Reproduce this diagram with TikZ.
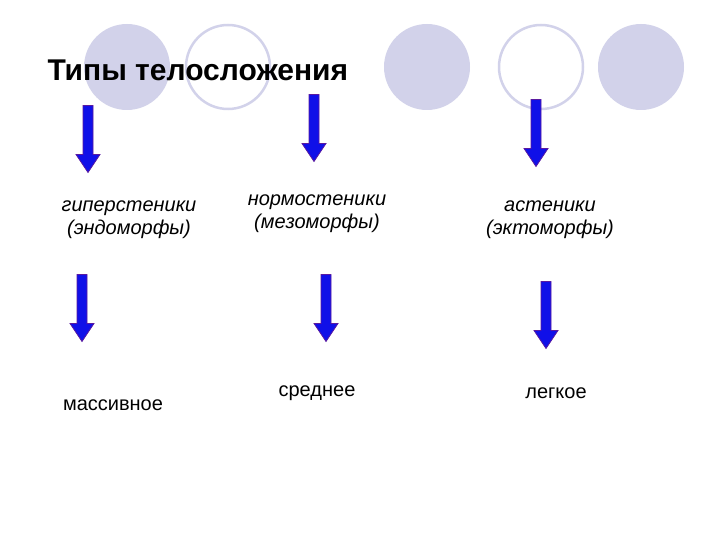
\documentclass[tikz,border=0pt]{standalone}
\usepackage{fontspec}
\setmainfont{Liberation Sans}
\definecolor{lav}{HTML}{D2D2EA}
\definecolor{arrblue}{HTML}{1010E8}
\definecolor{arrline}{HTML}{5A1AA0}
\begin{document}
\begin{tikzpicture}[x=1pt,y=-1pt,
  fcirc/.style={circle,fill=lav,minimum size=86pt,inner sep=0},
  ocirc/.style={circle,draw=lav,line width=2.5pt,fill=white,minimum size=84pt,inner sep=0},
  barrowfill/.style={fill=arrblue,draw=arrline,line width=0.8pt,line join=miter},
  barr/.pic={\path[barrowfill] (-5,-33.5) -- (5,-33.5) -- (5,15.5) -- (12,15.5) -- (0,33.5) -- (-12,15.5) -- (-5,15.5) -- cycle;},
  lbl/.style={font=\fontsize{20}{23}\selectfont\itshape,align=center},
  res/.style={font=\fontsize{20}{23}\selectfont}]
\useasboundingbox (0,0) rectangle (720,540);
\fill[white] (0,0) rectangle (720,540);
\node[fcirc] (c1) at (127,67) {};
\node[ocirc] (c2) at (228,67) {};
\node[fcirc] (c3) at (427,67) {};
\node[ocirc] (c4) at (541,67) {};
\node[fcirc] (c5) at (641,67) {};
\node[anchor=west,font=\fontsize{30}{34}\selectfont\bfseries] (t) at (44,70) {Типы телосложения};
\pic (a1) at (88,139) {barr};
\pic (a2) at (314,128) {barr};
\pic (a3) at (536,133) {barr};
\node[lbl] (l1) at (129,220) {гиперстеники\\(эндоморфы)};
\node[lbl] (l2) at (317,214) {нормостеники\\(мезоморфы)};
\node[lbl] (l3) at (550,220) {астеники\\(эктоморфы)};
\pic (b1) at (82,308) {barr};
\pic (b2) at (326,308) {barr};
\pic (b3) at (546,315) {barr};
\node[res] (r1) at (113,405) {массивное};
\node[res] (r2) at (317,393) {среднее};
\node[res] (r3) at (556,393) {легкое};
\end{tikzpicture}
\end{document}
